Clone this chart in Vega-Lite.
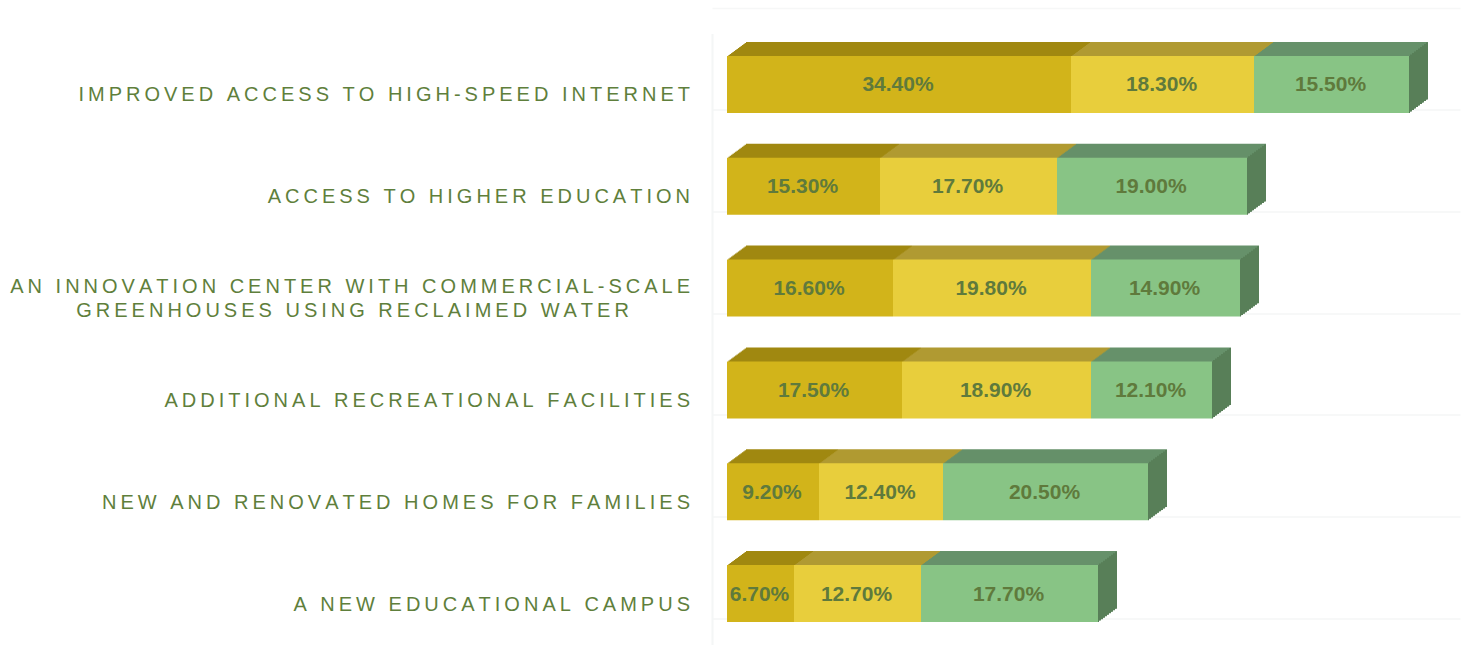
{"$schema":"https://vega.github.io/schema/vega-lite/v6.json","width":748,"height":611,"autosize":"none","padding":{"left":712,"top":33.5,"right":9,"bottom":5.5},"background":"white","config":{"view":{"stroke":null}},"data":{"values":[
{"label":"IMPROVED ACCESS TO HIGH-SPEED INTERNET","series":1,"value":0.344},{"label":"IMPROVED ACCESS TO HIGH-SPEED INTERNET","series":2,"value":0.183},{"label":"IMPROVED ACCESS TO HIGH-SPEED INTERNET","series":3,"value":0.155},
{"label":"ACCESS TO HIGHER EDUCATION","series":1,"value":0.153},{"label":"ACCESS TO HIGHER EDUCATION","series":2,"value":0.177},{"label":"ACCESS TO HIGHER EDUCATION","series":3,"value":0.19},
{"label":"AN INNOVATION CENTER WITH COMMERCIAL-SCALE GREENHOUSES USING RECLAIMED WATER","series":1,"value":0.166},{"label":"AN INNOVATION CENTER WITH COMMERCIAL-SCALE GREENHOUSES USING RECLAIMED WATER","series":2,"value":0.198},{"label":"AN INNOVATION CENTER WITH COMMERCIAL-SCALE GREENHOUSES USING RECLAIMED WATER","series":3,"value":0.149},
{"label":"ADDITIONAL RECREATIONAL FACILITIES","series":1,"value":0.175},{"label":"ADDITIONAL RECREATIONAL FACILITIES","series":2,"value":0.189},{"label":"ADDITIONAL RECREATIONAL FACILITIES","series":3,"value":0.121},
{"label":"NEW AND RENOVATED HOMES FOR FAMILIES","series":1,"value":0.092},{"label":"NEW AND RENOVATED HOMES FOR FAMILIES","series":2,"value":0.124},{"label":"NEW AND RENOVATED HOMES FOR FAMILIES","series":3,"value":0.205},
{"label":"A NEW EDUCATIONAL CAMPUS","series":1,"value":0.067},{"label":"A NEW EDUCATIONAL CAMPUS","series":2,"value":0.127},{"label":"A NEW EDUCATIONAL CAMPUS","series":3,"value":0.177}
]},
"transform":[{"stack":"value","groupby":["label"],"sort":[{"field":"series","order":"ascending"}],"as":["x0","x1"]}],
"encoding":{"y":{"field":"label","type":"nominal","sort":null,"scale":{"paddingInner":0,"paddingOuter":0},"axis":{"title":null,"bandPosition":0.75,"labelOffset":{"condition":{"test":"indexof(datum.value,'GREENHOUSES')>0","value":-1},"value":11},"ticks":false,"grid":true,"gridColor":"#f5f6f6","gridWidth":1.5,"domainColor":"#f4f6f6","domainWidth":2,"labelPadding":22.5,"labelLimit":0,"labelFont":"Liberation Sans","labelFontSize":20,"labelColor":"#5f7f3c","labelLineHeight":24,"labelExpr":"indexof(datum.value,'GREENHOUSES')>0 ? [join(split('AN INNOVATION CENTER WITH COMMERCIAL-SCALE',''),'\u2009'), join(split('GREENHOUSES USING RECLAIMED WATER',''),'\u2009')+'\u00a0\u00a0\u00a0\u00a0\u00a0\u00a0\u00a0\u00a0\u00a0\u00a0\u00a0\u2060'] : join(split(datum.value,''),'\u2009')"}}},
"layer":[
{"mark":{"type":"bar","size":57,"xOffset":19,"x2Offset":19,"yOffset":-14,"y2Offset":-14},"encoding":{"x":{"field":"x0","type":"quantitative","scale":{"domain":[-0.015,0.733],"zero":false,"nice":false},"axis":{"orient":"top","offset":25.5,"title":null,"labels":false,"ticks":false,"grid":false,"domainColor":"#f6f7f7","domainWidth":1.5}},"x2":{"field":"x1"},"color":{"field":"series","type":"nominal","legend":null,"scale":{"domain":[1,2,3],"range":["#a08810","#b09a32","#66916a"]}}}},
{"mark":{"type":"bar","size":57,"xOffset":17.6,"x2Offset":17.6,"yOffset":-13,"y2Offset":-13},"encoding":{"x":{"field":"x0","type":"quantitative"},"x2":{"field":"x1"},"color":{"field":"series","type":"nominal"}}},
{"mark":{"type":"bar","size":57,"xOffset":16.3,"x2Offset":16.3,"yOffset":-12,"y2Offset":-12},"encoding":{"x":{"field":"x0","type":"quantitative"},"x2":{"field":"x1"},"color":{"field":"series","type":"nominal"}}},
{"mark":{"type":"bar","size":57,"xOffset":14.9,"x2Offset":14.9,"yOffset":-11,"y2Offset":-11},"encoding":{"x":{"field":"x0","type":"quantitative"},"x2":{"field":"x1"},"color":{"field":"series","type":"nominal"}}},
{"mark":{"type":"bar","size":57,"xOffset":13.6,"x2Offset":13.6,"yOffset":-10,"y2Offset":-10},"encoding":{"x":{"field":"x0","type":"quantitative"},"x2":{"field":"x1"},"color":{"field":"series","type":"nominal"}}},
{"mark":{"type":"bar","size":57,"xOffset":12.2,"x2Offset":12.2,"yOffset":-9,"y2Offset":-9},"encoding":{"x":{"field":"x0","type":"quantitative"},"x2":{"field":"x1"},"color":{"field":"series","type":"nominal"}}},
{"mark":{"type":"bar","size":57,"xOffset":10.9,"x2Offset":10.9,"yOffset":-8,"y2Offset":-8},"encoding":{"x":{"field":"x0","type":"quantitative"},"x2":{"field":"x1"},"color":{"field":"series","type":"nominal"}}},
{"mark":{"type":"bar","size":57,"xOffset":9.5,"x2Offset":9.5,"yOffset":-7,"y2Offset":-7},"encoding":{"x":{"field":"x0","type":"quantitative"},"x2":{"field":"x1"},"color":{"field":"series","type":"nominal"}}},
{"mark":{"type":"bar","size":57,"xOffset":8.1,"x2Offset":8.1,"yOffset":-6,"y2Offset":-6},"encoding":{"x":{"field":"x0","type":"quantitative"},"x2":{"field":"x1"},"color":{"field":"series","type":"nominal"}}},
{"mark":{"type":"bar","size":57,"xOffset":6.8,"x2Offset":6.8,"yOffset":-5,"y2Offset":-5},"encoding":{"x":{"field":"x0","type":"quantitative"},"x2":{"field":"x1"},"color":{"field":"series","type":"nominal"}}},
{"mark":{"type":"bar","size":57,"xOffset":5.4,"x2Offset":5.4,"yOffset":-4,"y2Offset":-4},"encoding":{"x":{"field":"x0","type":"quantitative"},"x2":{"field":"x1"},"color":{"field":"series","type":"nominal"}}},
{"mark":{"type":"bar","size":57,"xOffset":4.1,"x2Offset":4.1,"yOffset":-3,"y2Offset":-3},"encoding":{"x":{"field":"x0","type":"quantitative"},"x2":{"field":"x1"},"color":{"field":"series","type":"nominal"}}},
{"mark":{"type":"bar","size":57,"xOffset":2.7,"x2Offset":2.7,"yOffset":-2,"y2Offset":-2},"encoding":{"x":{"field":"x0","type":"quantitative"},"x2":{"field":"x1"},"color":{"field":"series","type":"nominal"}}},
{"mark":{"type":"bar","size":57,"xOffset":1.4,"x2Offset":1.4,"yOffset":-1,"y2Offset":-1},"encoding":{"x":{"field":"x0","type":"quantitative"},"x2":{"field":"x1"},"color":{"field":"series","type":"nominal"}}},
{"transform":[{"filter":"datum.series==3"}],"layer":[
{"mark":{"type":"bar","size":57,"color":"#587f58","xOffset":17,"x2Offset":19,"yOffset":-13.3,"y2Offset":-13.3},"encoding":{"x":{"field":"x1","type":"quantitative"},"x2":{"field":"x1"}}},
{"mark":{"type":"bar","size":57,"color":"#587f58","xOffset":15,"x2Offset":17,"yOffset":-11.8,"y2Offset":-11.8},"encoding":{"x":{"field":"x1","type":"quantitative"},"x2":{"field":"x1"}}},
{"mark":{"type":"bar","size":57,"color":"#587f58","xOffset":13,"x2Offset":15,"yOffset":-10.3,"y2Offset":-10.3},"encoding":{"x":{"field":"x1","type":"quantitative"},"x2":{"field":"x1"}}},
{"mark":{"type":"bar","size":57,"color":"#587f58","xOffset":11,"x2Offset":13,"yOffset":-8.9,"y2Offset":-8.9},"encoding":{"x":{"field":"x1","type":"quantitative"},"x2":{"field":"x1"}}},
{"mark":{"type":"bar","size":57,"color":"#587f58","xOffset":9,"x2Offset":11,"yOffset":-7.4,"y2Offset":-7.4},"encoding":{"x":{"field":"x1","type":"quantitative"},"x2":{"field":"x1"}}},
{"mark":{"type":"bar","size":57,"color":"#587f58","xOffset":7,"x2Offset":9,"yOffset":-5.9,"y2Offset":-5.9},"encoding":{"x":{"field":"x1","type":"quantitative"},"x2":{"field":"x1"}}},
{"mark":{"type":"bar","size":57,"color":"#587f58","xOffset":5,"x2Offset":7,"yOffset":-4.4,"y2Offset":-4.4},"encoding":{"x":{"field":"x1","type":"quantitative"},"x2":{"field":"x1"}}},
{"mark":{"type":"bar","size":57,"color":"#587f58","xOffset":3,"x2Offset":5,"yOffset":-2.9,"y2Offset":-2.9},"encoding":{"x":{"field":"x1","type":"quantitative"},"x2":{"field":"x1"}}},
{"mark":{"type":"bar","size":57,"color":"#587f58","xOffset":1,"x2Offset":3,"yOffset":-1.5,"y2Offset":-1.5},"encoding":{"x":{"field":"x1","type":"quantitative"},"x2":{"field":"x1"}}},
{"mark":{"type":"bar","size":57,"color":"#587f58","xOffset":0,"x2Offset":1,"yOffset":0,"y2Offset":0},"encoding":{"x":{"field":"x1","type":"quantitative"},"x2":{"field":"x1"}}}
]},
{"mark":{"type":"bar","size":57},"encoding":{"x":{"field":"x0","type":"quantitative"},"x2":{"field":"x1"},"fill":{"field":"series","type":"nominal","legend":null,"scale":{"domain":[1,2,3],"range":["#d2b41a","#e8ce3c","#88c485"]}}}},
{"mark":{"type":"text","font":"Liberation Sans","fontWeight":"bold","fontSize":21,"color":"#5f7a3c","dx":-1,"dy":1},"encoding":{"x":{"field":"value","type":"quantitative","stack":"zero","bandPosition":0.5},"order":{"field":"series","type":"quantitative"},"text":{"field":"value","type":"quantitative","format":".2%"}}}
]}
